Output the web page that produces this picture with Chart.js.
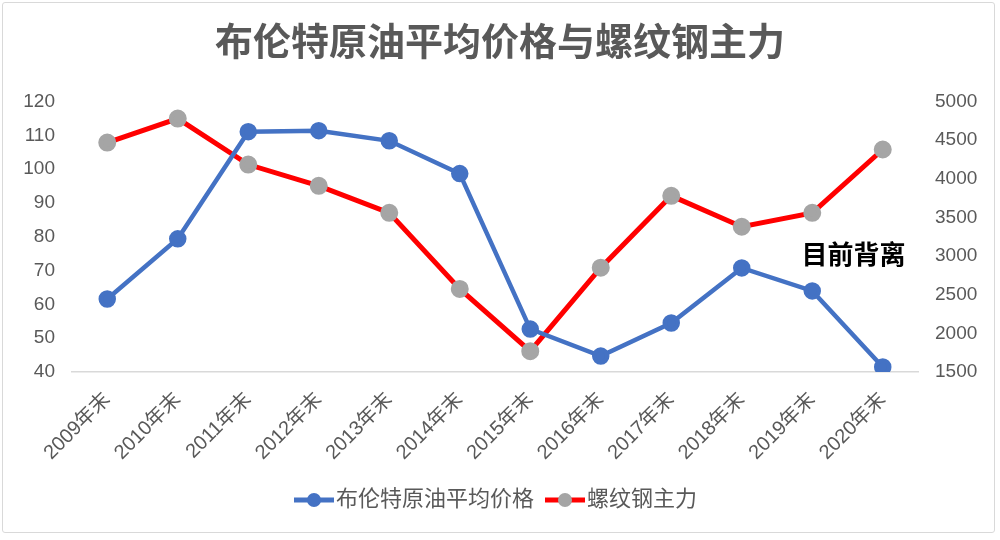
<!DOCTYPE html>
<html>
<head>
<meta charset="utf-8">
<script src="https://cdn.jsdelivr.net/npm/chart.js@4"></script>
<style>
  body { margin: 0; background: #fff; }
  #wrap { position: relative; width: 1000px; height: 540px; }
  #frame { position: absolute; left: 2px; top: 2px; width: 991px; height: 529px;
           border: 1px solid #d9d9d9; border-radius: 3px; pointer-events: none; }
</style>
</head>
<body>
<div id="wrap">
  <canvas id="grafico" width="1000" height="540"></canvas>
  <div id="frame"></div>
</div>
<script>
// categorias y series
const anios = ["2009年末", "2010年末", "2011年末", "2012年末", "2013年末", "2014年末",
               "2015年末", "2016年末", "2017年末", "2018年末", "2019年末", "2020年末"];
const brent = [61.6, 79.4, 111.1, 111.4, 108.4, 98.7, 52.7, 44.7, 54.5, 70.8, 64.0, 41.5];
const luowen = [4470, 4780, 4185, 3910, 3560, 2575, 1770, 2850, 3780, 3380, 3560, 4380];
const ticksIzq = [40, 50, 60, 70, 80, 90, 100, 110, 120];
const ticksDer = [1500, 2000, 2500, 3000, 3500, 4000, 4500, 5000];

const fuente = '"Liberation Sans", "Noto Sans CJK SC", sans-serif';
const gris = '#595959';

// icono de leyenda: linea con circulo
function icono(colorLinea, colorPunto) {
  const c = document.createElement('canvas');
  c.width = 40; c.height = 16;
  const g = c.getContext('2d');
  g.strokeStyle = colorLinea; g.lineWidth = 5;
  g.beginPath(); g.moveTo(0, 8); g.lineTo(40, 8); g.stroke();
  g.fillStyle = colorPunto;
  g.beginPath(); g.arc(20, 8, 7, 0, Math.PI * 2); g.fill();
  return c;
}

// texto "目前背离"
const nota = {
  id: 'nota',
  afterDatasetsDraw(chart) {
    const x = chart.scales.x, y = chart.scales.y1;
    const ctx = chart.ctx;
    const px = (x.getPixelForValue(10) + x.getPixelForValue(11)) / 2 + 6;
    const py = y.getPixelForValue(3000) - 2;
    ctx.save();
    ctx.font = 'bold 26px "Noto Sans CJK SC", sans-serif';
    ctx.fillStyle = '#000';
    ctx.textAlign = 'center';
    ctx.textBaseline = 'middle';
    ctx.fillText('目前背离', px, py);
    ctx.restore();
  }
};

const ctx = document.getElementById('grafico').getContext('2d');
const chart = new Chart(ctx, {
  type: 'line',
  data: {
    labels: anios,
    datasets: [{
      label: '布伦特原油平均价格',
      data: brent,
      yAxisID: 'y',
      borderColor: '#4472C4',
      backgroundColor: '#4472C4',
      pointBackgroundColor: '#4472C4',
      pointBorderColor: '#4472C4',
      borderWidth: 4.5,
      pointRadius: 6.5,
      tension: 0,
      fill: false
    }, {
      label: '螺纹钢主力',
      data: luowen,
      yAxisID: 'y1',
      borderColor: '#FF0000',
      backgroundColor: '#A5A5A5',
      pointBackgroundColor: '#A5A5A5',
      pointBorderColor: '#A5A5A5',
      borderWidth: 5,
      pointRadius: 6.5,
      tension: 0,
      fill: false
    }]
  },
  options: {
    responsive: false,
    animation: false,
    layout: { padding: { left: 0, right: 0, top: 10, bottom: 19 } },
    plugins: {
      title: {
        display: true,
        text: '布伦特原油平均价格与螺纹钢主力',
        color: gris,
        font: { family: fuente, size: 38, weight: 'bold' },
        padding: { top: 12, bottom: 34 }
      },
      legend: {
        position: 'bottom',
        labels: {
          color: gris,
          font: { family: fuente, size: 22 },
          usePointStyle: true,
          padding: 20,
          generateLabels(chart) {
            return chart.data.datasets.map((ds, i) => ({
              text: ds.label,
              fontColor: gris,
              pointStyle: i === 0 ? icono('#4472C4', '#4472C4') : icono('#FF0000', '#A5A5A5'),
              datasetIndex: i,
              lineWidth: 0
            }));
          }
        }
      },
      tooltip: { enabled: false }
    },
    scales: {
      x: {
        offset: true,
        afterFit(axis) { axis.height = 97; },
        grid: { display: false, drawTicks: false },
        border: { display: true, color: '#d9d9d9', width: 1.5 },
        ticks: {
          color: gris,
          font: { family: fuente, size: 20 },
          minRotation: 45,
          maxRotation: 45,
          padding: 16
        }
      },
      y: {
        position: 'left',
        min: 40, max: 120,
        afterBuildTicks(axis) { axis.ticks = ticksIzq.map(v => ({ value: v })); },
        afterFit(axis) { axis.width = 72; },
        grid: { display: false, drawTicks: false },
        border: { display: false },
        ticks: { color: gris, font: { family: fuente, size: 19 }, padding: 17 }
      },
      y1: {
        position: 'right',
        min: 1500, max: 5000,
        afterBuildTicks(axis) { axis.ticks = ticksDer.map(v => ({ value: v })); },
        afterFit(axis) { axis.width = 82; },
        grid: { display: false, drawTicks: false },
        border: { display: false },
        ticks: {
          color: gris, font: { family: fuente, size: 19 }, padding: 17,
          callback: v => String(v)
        }
      }
    }
  },
  plugins: [nota]
});
</script>
</body>
</html>
